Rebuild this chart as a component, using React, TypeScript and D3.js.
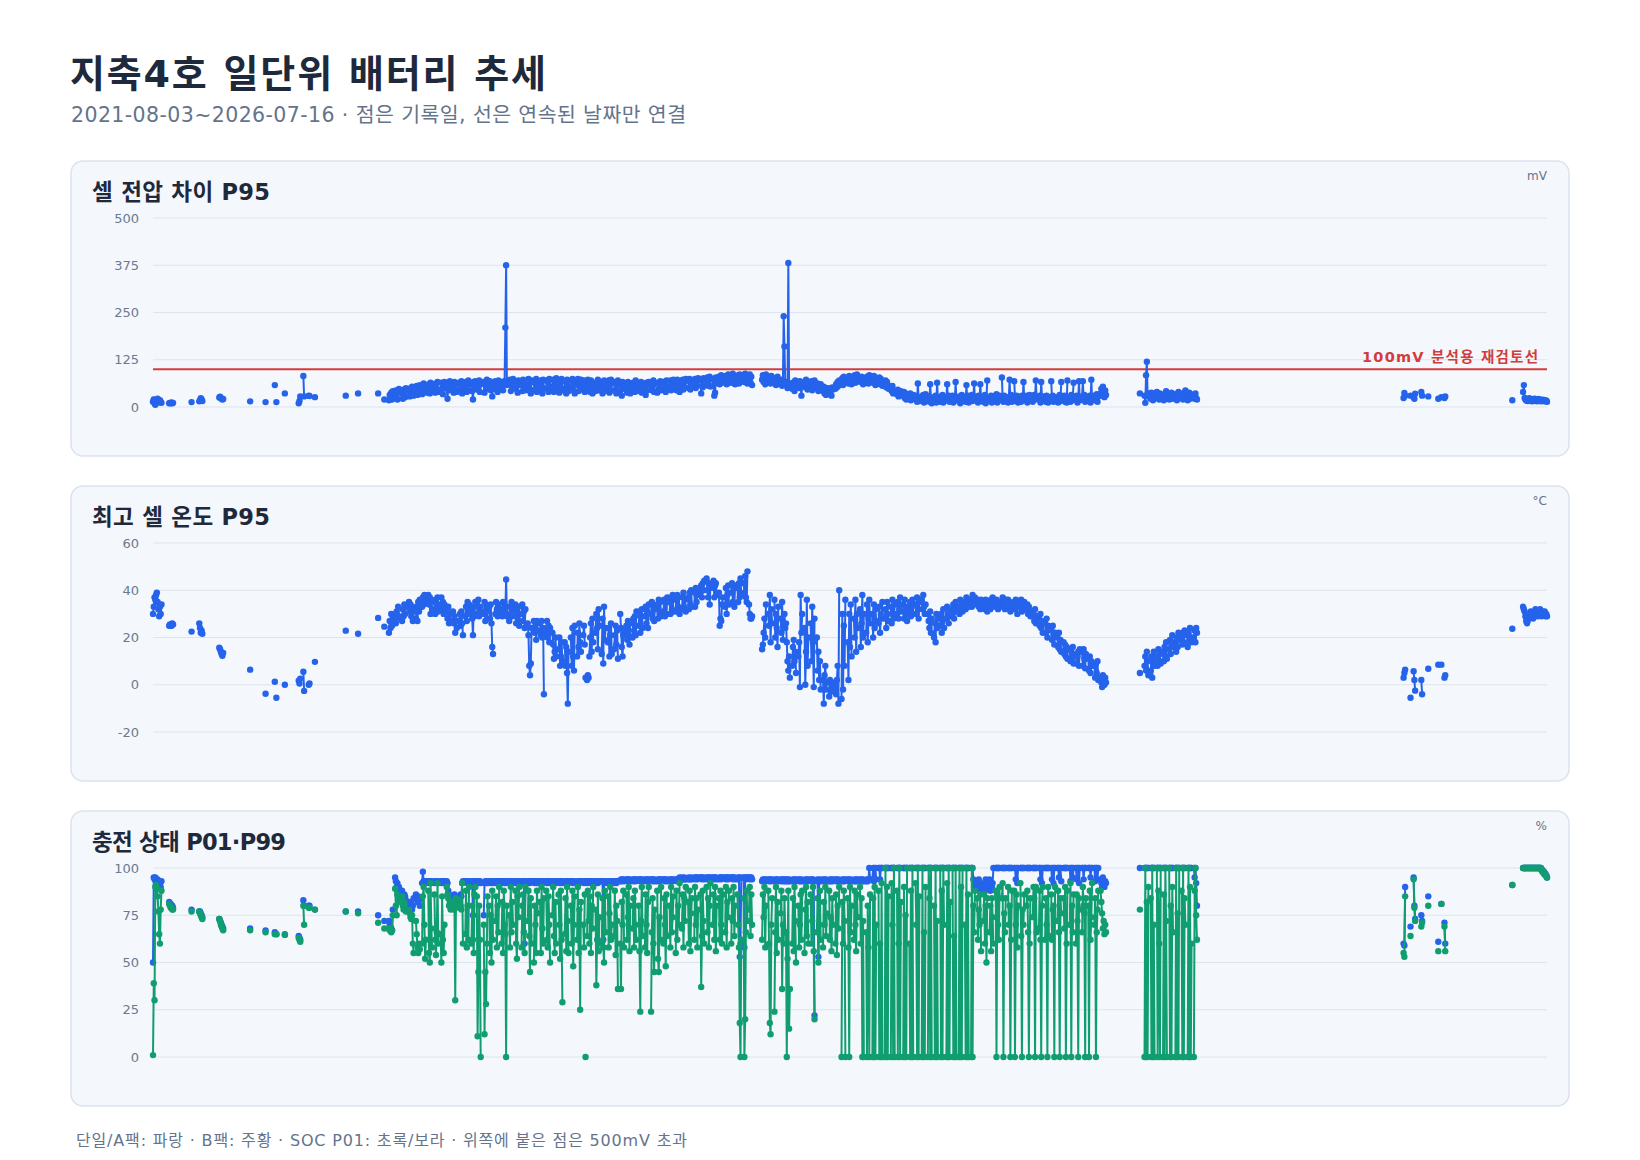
import React from 'react';
import * as d3 from 'd3';

// 기록일 묶음: 각 묶음은 시작일부터 하루씩 이어진 날짜
const runStarts = [
  '2021-08-03', '2021-08-24', '2021-09-22', '2021-10-02', '2021-10-28', '2021-12-07', '2021-12-27', '2022-01-08', '2022-01-10', '2022-01-21',
  '2022-02-08', '2022-02-14', '2022-02-21', '2022-03-01', '2022-04-10', '2022-04-26', '2022-05-22', '2022-05-30',
  '2022-06-05', '2022-06-13', '2022-06-22', '2022-07-01', '2022-07-10', '2022-07-18', '2022-07-26', '2022-08-03', '2022-08-11', '2022-08-19',
  '2022-08-27', '2022-09-04', '2022-09-12', '2022-09-20', '2022-09-27', '2022-10-06', '2022-10-13', '2022-10-21', '2022-10-29', '2022-11-08',
  '2022-11-16', '2022-11-24', '2022-12-02', '2022-12-10', '2022-12-18', '2022-12-26', '2023-01-03', '2023-01-11', '2023-01-19', '2023-01-27',
  '2023-02-04', '2023-02-12', '2023-02-15', '2023-02-17', '2023-02-20', '2023-02-28', '2023-03-08', '2023-03-16', '2023-03-24', '2023-04-01',
  '2023-04-09', '2023-04-17', '2023-04-25', '2023-05-03', '2023-05-11', '2023-05-19', '2023-05-27', '2023-06-04', '2023-06-12', '2023-06-20',
  '2023-06-28', '2023-07-06', '2023-07-14', '2023-07-22', '2023-07-30', '2023-08-07', '2023-08-15', '2023-08-23', '2023-08-31', '2023-09-08', '2023-09-15',
  '2023-10-02', '2023-10-10', '2023-10-18', '2023-10-26', '2023-11-02', '2023-11-10', '2023-11-18', '2023-11-26', '2023-12-04', '2023-12-12',
  '2023-12-20', '2023-12-28', '2024-01-05', '2024-01-13', '2024-01-21', '2024-01-29', '2024-02-06', '2024-02-14', '2024-02-22', '2024-03-01',
  '2024-03-09', '2024-03-17', '2024-03-25', '2024-04-02', '2024-04-10', '2024-04-18', '2024-04-26', '2024-05-04', '2024-05-12', '2024-05-20',
  '2024-05-28', '2024-06-05', '2024-06-13', '2024-06-21', '2024-06-29', '2024-07-07', '2024-07-15', '2024-07-23', '2024-07-31', '2024-08-08',
  '2024-08-16', '2024-08-24', '2024-09-01', '2024-09-09', '2024-09-17', '2024-09-25', '2024-10-03', '2024-10-11', '2024-10-19', '2024-10-27',
  '2024-11-04', '2024-11-12', '2024-11-20', '2024-11-28', '2024-12-06', '2024-12-14',
  '2025-02-03', '2025-02-09', '2025-02-17', '2025-02-25', '2025-03-05', '2025-03-13', '2025-03-21', '2025-03-29', '2025-04-06', '2025-04-14',
  '2026-01-11', '2026-01-20', '2026-01-24', '2026-02-03', '2026-02-12', '2026-02-25', '2026-03-01', '2026-03-05', '2026-06-01', '2026-06-15',
];

// 셀 전압 차이 P95 (mV)
const cellDiffP95 = [
  [14, 20, 10, 6, 15, 19, 22, 16, 12, 18, 14, 11], [10, 11, 10, 12, 10, 11], [13], [15, 18, 23, 20, 16], [25, 27, 24, 22, 20, 21], [15], [13], [58], [13], [36],
  [10, 16, 28], [82, 28], [30, 29], [26], [30], [36], [36], [20],
  [18, 32, 22, 38, 20, 42], [26, 44, 30, 20, 40, 48], [36, 22, 46, 30, 26, 50], [42, 28, 50, 34, 54, 40, 30], [46, 56, 32, 50, 38, 58], [34, 52, 62, 40, 56, 38], [50, 60, 36, 64, 42, 54], [58, 38, 62, 46, 66, 40], [42, 64, 50, 34, 60, 66], [48, 22, 62, 44, 68, 50],
  [58, 38, 66, 46, 62, 40], [64, 42, 54, 68, 36, 60], [48, 66, 40, 60, 70, 44], [60, 42, 20, 66, 50, 68], [46, 64, 52, 70, 40, 60], [66, 38, 60, 48, 72, 52], [56, 68, 44, 62, 28, 58], [68, 46, 62, 40, 70, 54], [52, 66, 44, 60, 68, 210, 375, 58], [60, 72, 42, 64, 50, 74],
  [48, 68, 56, 38, 70, 58], [64, 42, 72, 50, 60, 44], [56, 74, 44, 66, 36, 70], [66, 46, 62, 74, 40, 58], [44, 70, 54, 36, 72, 50], [70, 48, 66, 40, 74, 52], [54, 72, 40, 64, 48, 76], [62, 38, 70, 52, 74, 44], [48, 66, 36, 72, 56, 42], [70, 50, 74, 44, 62, 36],
  [58, 74, 42, 66, 48, 72], [54, 70, 40], [62], [48, 72, 56], [66, 40, 70, 52, 36, 64], [42, 64, 50, 72, 44, 58], [64, 36, 56, 70, 42, 66], [50, 70, 38, 60, 72, 44], [66, 44, 62, 36, 56, 70], [42, 64, 30, 66, 48, 58],
  [60, 38, 66, 48, 62, 36], [46, 64, 54, 40, 70, 48], [62, 42, 58, 66, 38, 56], [50, 32, 64, 44, 60, 66], [58, 44, 56, 70, 40, 62], [38, 64, 48, 60, 68, 44], [66, 48, 60, 40, 70, 54], [54, 70, 44, 62, 48, 72], [62, 44, 72, 52, 66, 40], [58, 72, 46, 66, 52, 74],
  [70, 50, 74, 46, 66, 58], [60, 74, 50, 70, 56, 76], [72, 36, 70, 52, 76, 60], [64, 78, 56, 72, 80, 54], [74, 58, 30, 38, 78, 64], [80, 60, 74, 84, 64, 78], [70, 82, 60, 76, 86, 64], [82, 64, 88, 70, 78, 60], [76, 84, 62, 86, 70, 80], [84, 66, 88, 72, 80, 62], [78, 86, 64, 80, 58],
  [72, 84, 66, 78, 60, 86], [80, 68, 76, 62, 82, 70], [64, 76, 58, 70, 80, 62], [60, 72, 56, 68, 240, 160, 64], [58, 66, 50, 381, 62, 54], [48, 64, 56, 42, 70, 58], [62, 50, 68, 54, 30, 60], [66, 52, 72, 58, 46, 64], [54, 68, 44, 62, 56, 70], [50, 62, 42, 56, 46, 60],
  [42, 54, 36, 48, 32, 50], [38, 50, 44, 30, 52, 46], [48, 60, 52, 66, 56, 70], [62, 76, 58, 80, 66, 72], [74, 62, 82, 68, 78, 60], [70, 84, 64, 76, 86, 68], [78, 66, 80, 72, 60, 76], [68, 80, 74, 62, 84, 70], [76, 64, 82, 70, 58, 74], [66, 78, 60, 74, 68, 56],
  [62, 70, 52, 66, 58, 48], [50, 42, 56, 36, 44, 38], [34, 46, 28, 40, 32, 42], [30, 40, 24, 36, 20, 34], [26, 36, 18, 30, 22, 32], [22, 30, 14, 62, 24, 16], [28, 18, 32, 12, 26, 34], [20, 28, 14, 60, 24, 10], [26, 16, 30, 12, 64, 22], [14, 28, 20, 32, 12, 26],
  [24, 60, 18, 30, 14, 28], [30, 12, 26, 18, 66, 22], [16, 28, 10, 24, 32, 18], [26, 14, 58, 20, 30, 12], [22, 32, 16, 28, 62, 20], [28, 12, 30, 18, 60, 24], [14, 26, 32, 10, 22, 70], [24, 18, 30, 12, 28, 16], [20, 34, 12, 26, 18, 30], [78, 22, 14, 30, 18, 26],
  [12, 26, 72, 20, 32, 14], [68, 24, 16, 30, 20, 12], [26, 14, 30, 18, 66, 22], [30, 12, 24, 16, 32, 20], [14, 26, 32, 20, 70, 24], [20, 30, 12, 66, 28, 18], [28, 14, 30, 20, 12, 26], [68, 22, 30, 14, 26, 18], [24, 12, 28, 32, 16, 66], [18, 30, 14, 26, 12, 70],
  [26, 14, 32, 18, 28, 64], [20, 30, 12, 24, 68, 18], [28, 68, 20, 32, 14, 26], [16, 24, 30, 12, 72, 20], [30, 18, 26, 34, 14, 28], [36, 48, 30, 54, 40, 26, 44, 32],
  [36], [30, 11, 84, 120, 28, 36], [22, 38, 26, 18, 34, 28], [40, 24, 30, 20, 36, 26], [28, 18, 34, 24, 42, 22], [20, 32, 26, 38, 22, 30], [34, 24, 18, 30, 40, 26], [24, 36, 20, 32, 26, 44], [18, 30, 38, 22, 34, 26], [30, 22, 36, 24, 20],
  [24, 37, 30], [30], [26, 22, 35], [40, 30], [28], [22], [26], [24, 28], [18],
  [40, 58, 24, 20, 17, 21, 16, 19, 23, 17, 21, 15, 18, 20, 16, 22, 19, 17, 15, 18, 21, 16, 20, 18, 15, 17, 19, 16, 18, 15, 17, 14],
];

// 최고 셀 온도 P95 (°C)
const maxTempP95 = [
  [30, 33, 37, 36, 38, 39, 35, 32, 29, 33, 30, 34], [25, 25.5, 25, 25, 26, 25.5], [22.5], [26, 24, 22, 23, 21.6], [15.7, 15, 14, 13, 12.3, 13.5], [6.4], [-3.8], [1.3], [-5.5], [0],
  [1.7, 0.5, 2.6], [5.5, -2.6], [0, 0.5], [9.7], [22.9], [21.6], [28.3], [24.6],
  [22, 27, 24, 30, 25, 28], [30, 26, 31, 28, 33, 29], [27, 32, 29, 34, 30, 33], [35, 31, 34, 29, 33, 27, 31], [28, 33, 27, 35, 31, 36], [33, 37, 34, 38, 35, 37], [38, 34, 37, 30, 36, 32], [35, 30, 36, 33, 37, 31], [34, 37, 32, 35, 30, 34], [32, 28, 33, 26, 30, 27],
  [31, 26, 29, 22, 27, 24], [27, 30, 25, 31, 26, 21], [29, 33, 27, 35, 30, 34], [32, 28, 21, 33, 29, 35], [34, 30, 36, 29, 33, 31], [30, 35, 27, 34, 31, 28], [33, 28, 34, 26, 16, 13], [30, 35, 32, 29, 34, 31], [32, 29, 35, 30, 34, 31, 44.6, 29], [27, 33, 30, 35, 29, 32],
  [34, 26, 31, 28, 33, 25], [30, 34, 27, 31, 24, 32], [26, 21, 8, 4, 9, 24], [27, 22, 26, 19, 27, 23], [26, 21, 27, 20, 24, -4], [22, 27, 20, 25, 18, 24], [22, 17, 11, 14, 20, 12], [15, 20, 8, 12, 18, 10], [18, 8, 16, 5, -8, 14], [20, 8, 24, 12, 6, 25],
  [12, 22, 16, 26, 18, 14], [21, 25, 17], [3], [2, 4, 3], [12, 20, 26, 14, 28, 18], [22, 30, 24, 15, 32, 25], [13, 28, 9, 33, 19, 24], [18, 24, 12, 21, 26, 13], [15, 21, 25, 17, 23, 11], [30, 24, 16, 12, 21, 23],
  [25, 19, 27, 21, 17, 26], [20, 28, 23, 29, 21, 31], [25, 31, 22, 29, 32, 24], [29, 33, 26, 31, 24, 34], [30, 35, 28, 33, 27, 32], [34, 28, 36, 30, 35, 29], [31, 36, 29, 35, 30, 37], [35, 30, 37, 32, 38, 31], [36, 31, 38, 33, 37, 30], [32, 37, 39, 33, 36, 31],
  [37, 32, 39, 34, 40, 33], [39, 33, 41, 35, 38, 40], [39, 42, 37, 43, 40, 44], [45, 40, 37, 43, 34, 42], [41, 44, 37, 42, 43, 38], [39, 25, 28, 27, 34, 37], [33, 41, 30, 38, 42, 34], [39, 43, 35, 41, 33, 42], [41, 35, 43, 37, 45, 38], [43, 39, 46, 37, 35, 48], [34, 30, 28, 28, 29],
  [15, 17, 22, 28, 20, 34], [30, 25, 38, 18, 32, 26], [36, 20, 30, 24, 16, 33], [28, 22, 35, 19, 26, 30, 24], [26, 18, 10, 6, 12, 3], [8, 16, 19, 10, 14, 5], [12, 18, -1, 38, 22, 30], [24, 0, 14, 36, 8, 20], [26, 10, 33, 18, -1, 28], [20, 6, 14, 2, 10, -2],
  [2, -8, 4, 8, -2, 1], [-5, 2, -3, 0, 1, -2], [0, -4, 2, 8, -8, 40], [-6, 30, -2, 25, 8, 36], [18, 2, 30, 16, 34, 12], [28, 20, 36, 14, 30, 24], [32, 16, 26, 38, 20, 30], [22, 34, 18, 28, 36, 26], [30, 20, 34, 24, 32, 27], [26, 33, 22, 30, 28, 35],
  [28, 32, 24, 35, 30, 27], [33, 26, 36, 30, 28, 34], [30, 35, 28, 32, 37, 31], [34, 28, 36, 30, 33, 27], [31, 35, 29, 33, 36, 30], [34, 30, 37, 32, 28, 35], [36, 32, 38, 33, 30, 34], [30, 27, 24, 31, 22, 28], [20, 26, 18, 30, 24, 28], [25, 30, 22, 27, 32, 24],
  [28, 33, 30, 26, 32, 29], [30, 34, 28, 32, 35, 31], [33, 30, 36, 32, 34, 31], [35, 32, 37, 34, 36, 33], [36, 33, 38, 34, 35, 37], [34, 36, 33, 35, 32, 36], [33, 35, 32, 36, 34, 31], [35, 32, 36, 33, 37, 34], [33, 36, 34, 32, 35, 33], [34, 37, 33, 35, 32, 36],
  [36, 33, 35, 31, 34, 32], [35, 32, 36, 33, 30, 34], [33, 36, 31, 34, 32, 35], [32, 34, 30, 33, 31, 29], [31, 30, 27, 32, 26, 29], [28, 25, 30, 24, 27, 22], [26, 22, 28, 20, 25, 23], [24, 19, 25, 21, 17, 22], [20, 16, 22, 15, 19, 14], [18, 13, 17, 12, 16, 11],
  [15, 10, 14, 11, 16, 9], [13, 9, 12, 14, 8, 15], [14, 8, 15, 11, 7, 13], [11, 6, 12, 5, 10, 8], [8, 3, 9, 5, 10, 2], [3, 1, -1, 4, 2, 0, 3, 1],
  [5], [8, 12, 6, 14, 10, 4], [6, 12, 3, 10, 14, 8], [12, 8, 15, 10, 13, 9], [14, 10, 16, 12, 18, 11], [15, 19, 13, 17, 21, 16], [18, 14, 20, 16, 22, 19], [20, 17, 22, 18, 23, 21], [16, 22, 19, 24, 20, 18], [20, 23, 18, 24, 22],
  [3, 5, 6.4], [-5.5], [5.7, 2, -2.5], [2, -4], [6.8], [8.5], [8.5], [3, 4], [23.7],
  [33, 32, 31, 29, 27, 26, 27, 28, 29, 30, 31, 30, 29, 28, 30, 31, 32, 31, 30, 29, 30, 31, 32, 30, 29, 31, 30, 30, 31, 29, 30, 29],
];

// 충전 상태 P99 (%)
const socP99 = [
  [50, 95, 94, 95, 93, 92, 94, 93, 91, 92, 90, 93], [82, 81, 81, 80, 80, 79], [78], [77, 77, 76, 75, 74], [73, 72, 71, 70, 69, 68], [68], [67], [66], [65], [65],
  [64, 63, 62], [83, 80], [80, 80], [78], [77], [77], [75], [72],
  [72, 70, 69, 68, 67, 78], [95, 93, 90, 92, 88, 90], [88, 86, 84, 86, 85, 83], [82, 80, 81, 79, 78, 80, 84], [86, 84, 82, 85, 83, 80], [92, 98, 93, 93, 92, 93], [93, 92, 93, 93, 92, 93], [92, 93, 93, 92, 93, 92], [93, 92, 93, 93, 92, 93], [93, 92, 88, 86, 85, 84],
  [85, 85, 86, 84, 85, 83], [85, 84, 86, 85, 92, 93], [93, 93, 92, 93, 93, 92], [93, 92, 75, 93, 92, 93], [92, 93, 92, 93, 93, 92], [75, 92, 93, 92, 93, 92], [93, 92, 93, 93, 92, 93], [92, 93, 93, 92, 93, 93], [93, 92, 93, 93, 92, 93, 92, 93], [93, 92, 93, 92, 93, 93],
  [92, 93, 93, 92, 93, 92], [93, 93, 92, 93, 60, 93], [92, 93, 93, 92, 93, 93], [93, 92, 93, 93, 92, 93], [92, 93, 93, 92, 93, 93], [93, 92, 93, 93, 92, 93], [92, 93, 93, 92, 93, 92], [93, 93, 92, 93, 93, 92], [93, 92, 93, 93, 92, 93], [93, 93, 92, 93, 93, 92],
  [92, 93, 93, 92, 93, 93], [93, 92, 93], [93], [92, 93, 93], [93, 92, 93, 93, 92, 93], [92, 93, 93, 92, 93, 93], [93, 93, 62, 93, 93, 92], [93, 92, 93, 93, 92, 93], [92, 93, 93, 92, 93, 93], [93, 94, 93, 94, 94, 93],
  [94, 94, 93, 94, 94, 93], [94, 93, 94, 94, 93, 94], [94, 94, 93, 94, 94, 93], [94, 93, 94, 94, 93, 94], [94, 94, 93, 94, 94, 93], [93, 94, 94, 93, 94, 94], [94, 94, 93, 94, 94, 93], [94, 93, 94, 94, 93, 94], [94, 94, 93, 94, 94, 95], [95, 94, 94, 95, 94, 94],
  [94, 95, 94, 94, 95, 94], [95, 94, 95, 95, 94, 95], [95, 95, 94, 95, 95, 94], [95, 94, 95, 95, 94, 95], [95, 95, 94, 95, 95, 94], [94, 95, 95, 94, 95, 95], [95, 94, 95, 95, 94, 95], [95, 95, 94, 95, 95, 94], [94, 95, 95, 53, 60, 95], [95, 58, 95, 94, 95, 95], [95, 94, 95, 95, 94],
  [93, 94, 93, 94, 93, 94], [94, 93, 94, 94, 93, 94], [93, 94, 93, 94, 94, 93], [94, 93, 94, 94, 93, 94, 93], [94, 93, 94, 93, 94, 93], [93, 94, 93, 94, 93, 94], [94, 93, 94, 93, 94, 93], [93, 94, 93, 94, 93, 94], [94, 93, 94, 94, 93, 22], [93, 94, 53, 93, 94, 93],
  [94, 93, 94, 93, 94, 93], [93, 94, 93, 94, 93, 94], [94, 93, 94, 93, 94, 93], [93, 94, 93, 94, 93, 94], [94, 93, 94, 93, 94, 93], [93, 94, 93, 94, 93, 94], [94, 93, 94, 93, 94, 93], [93, 94, 93, 94, 100, 94], [94, 100, 93, 100, 100, 94], [100, 100, 94, 100, 100, 100],
  [100, 100, 100, 100, 100, 100], [100, 100, 100, 100, 100, 100], [100, 100, 100, 100, 100, 100], [100, 100, 100, 100, 100, 100], [100, 100, 100, 100, 100, 100], [100, 100, 100, 100, 100, 100], [100, 100, 100, 100, 100, 100], [100, 100, 100, 100, 100, 100], [100, 100, 100, 100, 100, 100], [100, 100, 100, 100, 100, 100],
  [100, 100, 100, 100, 100, 100], [100, 100, 100, 100, 100, 100], [100, 100, 100, 100, 100, 100], [100, 100, 100, 100, 100, 100], [100, 100, 100, 94, 92, 90], [92, 90, 94, 88, 92, 90], [90, 92, 88, 94, 90, 92], [94, 88, 92, 90, 92, 100], [100, 100, 100, 100, 100, 100], [100, 100, 100, 100, 100, 100],
  [100, 100, 100, 100, 100, 100], [100, 100, 94, 100, 92, 100], [100, 100, 100, 100, 100, 100], [100, 100, 100, 100, 100, 100], [100, 100, 100, 100, 100, 100], [100, 100, 94, 100, 92, 100], [100, 100, 100, 100, 100, 100], [100, 94, 100, 92, 100, 100], [100, 100, 95, 100, 100, 93], [100, 100, 100, 100, 100, 100],
  [100, 93, 100, 100, 95, 100], [100, 94, 100, 100, 92, 100], [100, 100, 94, 100, 100, 100], [100, 100, 100, 95, 100, 100], [100, 93, 100, 100, 94, 100], [94, 92, 90, 95, 92, 90, 93, 92],
  [100], [100, 100, 100, 100, 100, 100], [100, 100, 100, 100, 100, 100], [100, 100, 100, 100, 100, 100], [100, 100, 100, 100, 100, 100], [100, 100, 100, 100, 100, 100], [100, 100, 100, 100, 100, 100], [100, 100, 100, 100, 100, 100], [100, 100, 100, 100, 100, 100], [100, 95, 100, 92, 80],
  [60, 59, 90], [69], [95, 80, 73], [75, 72], [85], [61], [81], [71, 60], [91],
  [100, 100, 100, 100, 100, 100, 100, 100, 100, 100, 100, 100, 100, 100, 100, 100, 100, 100, 100, 100, 100, 100, 100, 100, 99, 99, 98, 98, 97, 97, 96, 95],
];

// 충전 상태 P01 (%)
const socP01 = [
  [1, 39, 30, 90, 91, 89, 85, 77, 65, 60, 78, 88], [81, 80, 79, 79, 78, 78], [77], [77, 76, 75, 74, 73], [73, 72, 70, 69, 68, 67], [67], [66], [65], [65], [64.6],
  [63, 62, 61], [80, 70], [79, 79], [78], [77], [76], [71], [68],
  [68, 67, 67, 66, 67, 75], [89, 80, 75, 86, 82, 84], [85, 80, 78, 82, 79, 77], [78, 76, 74, 73, 75, 60, 55], [72, 65, 58, 55, 60, 57], [60, 85, 90, 70, 52, 62], [88, 55, 50, 92, 68, 58], [86, 62, 54, 66, 92, 60], [65, 50, 85, 62, 55, 70], [90, 86, 84, 80, 82, 78],
  [82, 78, 80, 30, 84, 80], [79, 83, 80, 78, 92, 60], [65, 88, 58, 80, 62, 90], [60, 80, 62, 55, 86, 90], [85, 11, 45, 80, 62, 0], [70, 12, 45, 28, 60, 85], [80, 55, 75, 50, 88, 62], [72, 85, 58, 80, 66, 90], [60, 82, 55, 88, 70, 65, 0, 80], [75, 58, 90, 66, 82, 70],
  [88, 60, 52, 85, 74, 90], [58, 80, 86, 66, 55, 90], [72, 88, 64, 45, 84, 60], [50, 80, 70, 55, 88, 76], [82, 55, 90, 68, 60, 84], [88, 62, 58, 85, 70, 50], [75, 90, 64, 55, 82, 60], [86, 70, 52, 88, 62, 29], [65, 84, 56, 90, 72, 55], [80, 60, 88, 48, 70, 85],
  [62, 90, 55, 78, 25, 82], [70, 58, 86], [0], [64, 88, 72], [60, 85, 55, 80, 68, 90], [78, 38, 62, 86, 56, 74], [60, 84, 58, 50, 88, 66], [85, 58, 76, 90, 62, 70], [64, 88, 54, 80, 72, 36], [60, 36, 82, 70, 88, 58],
  [86, 62, 74, 90, 56, 80], [68, 84, 58, 88, 70, 62], [80, 56, 24, 72, 90, 64], [58, 86, 70, 55, 82, 90], [24, 66, 84, 60, 45, 78], [88, 52, 45, 74, 62, 90], [60, 84, 70, 48, 86, 64], [80, 58, 90, 66, 74, 85], [55, 88, 62, 80, 70, 92], [68, 86, 58, 84, 72, 90],
  [82, 60, 88, 56, 76, 84], [62, 90, 70, 84, 58, 78], [86, 37, 64, 88, 72, 60], [90, 66, 84, 58, 80, 92], [70, 86, 62, 90, 56, 80], [84, 62, 88, 70, 60, 86], [66, 90, 58, 82, 74, 88], [60, 84, 72, 90, 64, 80], [86, 70, 58, 18, 0, 62], [84, 0, 20, 66, 88, 72], [78, 90, 64, 86, 70],
  [62, 86, 74, 90, 58, 80], [88, 60, 18, 12, 70, 84], [24, 66, 90, 55, 82, 62], [76, 88, 36, 70, 60, 84, 66], [66, 0, 52, 88, 15, 36], [60, 84, 56, 90, 72, 50], [80, 58, 70, 86, 62, 88], [55, 78, 90, 64, 82, 60], [86, 60, 72, 90, 56, 20], [66, 84, 50, 70, 88, 62],
  [58, 82, 70, 90, 64, 76], [88, 62, 74, 56, 84, 70], [60, 86, 54, 80, 68, 90], [0, 82, 60, 88, 72, 0], [84, 58, 0, 90, 66, 80], [62, 88, 70, 56, 86, 74], [90, 60, 84, 0, 72, 0], [66, 0, 80, 58, 0, 86], [0, 84, 0, 90, 0, 70], [88, 0, 60, 0, 92, 0],
  [0, 100, 0, 90, 0, 85], [0, 92, 70, 0, 100, 0], [88, 0, 60, 100, 0, 82], [0, 90, 0, 75, 0, 100], [60, 0, 88, 0, 100, 0], [92, 70, 0, 100, 0, 85], [0, 100, 0, 66, 0, 90], [0, 100, 84, 0, 100, 0], [80, 0, 100, 0, 72, 0], [100, 0, 88, 0, 100, 70],
  [0, 92, 0, 100, 0, 82], [100, 0, 64, 0, 100, 0], [0, 100, 0, 90, 0, 100], [70, 0, 100, 0, 86, 0], [0, 100, 0, 80, 66, 88], [84, 62, 78, 70, 86, 56], [72, 86, 60, 80, 50, 84], [66, 80, 56, 84, 74, 60], [88, 0, 86, 70, 62, 90], [84, 92, 0, 76, 66, 84],
  [90, 70, 80, 0, 62, 88], [88, 0, 70, 86, 58, 80], [92, 64, 0, 78, 70, 86], [80, 88, 66, 0, 60, 84], [74, 90, 84, 0, 90, 66], [68, 88, 62, 0, 80, 90], [62, 84, 70, 0, 90, 64], [86, 62, 78, 80, 0, 90], [72, 88, 66, 0, 84, 76], [84, 68, 90, 0, 60, 88],
  [70, 92, 0, 80, 66, 86], [60, 86, 72, 0, 84, 78], [66, 90, 80, 76, 0, 84], [80, 0, 88, 62, 74, 92], [70, 84, 0, 66, 78, 88], [88, 82, 76, 68, 72, 65, 70, 66],
  [78], [0, 100, 0, 82, 0, 90], [84, 0, 100, 0, 70, 0], [100, 0, 88, 60, 0, 100], [0, 86, 0, 100, 72, 0], [100, 0, 80, 0, 90, 66], [0, 100, 0, 76, 0, 100], [88, 0, 100, 0, 84, 70], [0, 100, 0, 90, 0, 60], [0, 88, 100, 75, 62],
  [55, 53, 85], [64], [94, 79, 72], [69, 71], [80], [56], [81], [69, 56], [91],
  [100, 100, 100, 100, 100, 100, 100, 100, 100, 100, 100, 100, 100, 100, 100, 100, 100, 100, 100, 100, 100, 100, 100, 100, 99, 98, 98, 97, 97, 96, 96, 95],
];

const firstDay = '2021-08-03';
const lastDay = '2026-07-16';
const voltTicks = [0, 125, 250, 375, 500];
const tempTicks = [-20, 0, 20, 40, 60];
const socTicks = [0, 25, 50, 75, 100];
const reviewLimit = 100;

const BLUE = '#2563eb';
const GREEN = '#109e70';
const FONT = "'DejaVu Sans', 'Noto Sans CJK KR', sans-serif";

const PANEL_X = 71;
const PANEL_W = 1498;
const PANEL_H = 295;
const PLOT_LEFT = 153;
const PLOT_RIGHT = 1547;

const parseDay = d3.utcParse('%Y-%m-%d');
const x = d3.scaleUtc()
  .domain([parseDay(firstDay)!, parseDay(lastDay)!])
  .range([PLOT_LEFT, PLOT_RIGHT]);

type Pt = { date: Date; value: number };

const toRuns = (series: number[][], cap = Infinity): Pt[][] =>
  series.map((vals, r) => {
    const start = parseDay(runStarts[r])!;
    return vals.map((v, i) => ({ date: d3.utcDay.offset(start, i), value: Math.min(v, cap) }));
  });

type Layer = { runs: Pt[][]; color: string };

const Panel: React.FC<{
  top: number; title: string; titleWidth: number; unit: string; domain: [number, number];
  ticks: number[]; layers: Layer[]; threshold?: number;
}> = ({ top, title, titleWidth, unit, domain, ticks, layers, threshold }) => {
  const y = d3.scaleLinear().domain(domain).range([top + 246, top + 57]);
  const line = d3.line<Pt>().x(d => x(d.date)).y(d => y(d.value));

  return (
    <g>
      <rect x={PANEL_X} y={top} width={PANEL_W} height={PANEL_H} rx={12}
        fill="#f4f7fb" stroke="#dbe3ee" strokeWidth={1.5} />
      <text x={92} y={top + 39} fontSize={22.5} fontWeight={700} fill="#1e293b"
        textLength={titleWidth} lengthAdjust="spacing">{title}</text>
      <text x={PLOT_RIGHT} y={top + 19} textAnchor="end" fontSize={12} fill="#64748b">{unit}</text>
      {ticks.map(t => (
        <g key={t}>
          <line x1={PLOT_LEFT} x2={PLOT_RIGHT} y1={y(t)} y2={y(t)} stroke="#dde4ee" strokeWidth={1} />
          <text x={139} y={y(t)} dy="0.35em" textAnchor="end" fontSize={13} fill="#6b7a90">{t}</text>
        </g>
      ))}
      {threshold !== undefined && (
        <g>
          <line x1={PLOT_LEFT} x2={PLOT_RIGHT} y1={y(threshold)} y2={y(threshold)}
            stroke="#d33c3c" strokeWidth={2} />
          <text x={1362} y={y(threshold) - 7} fontSize={14.5} fontWeight={700}
            fill="#d33c3c" textLength={176} lengthAdjust="spacing">100mV 분석용 재검토선</text>
        </g>
      )}
      {layers.map((layer, li) => (
        <g key={li}>
          {layer.runs.map((run, ri) => run.length > 1 && (
            <path key={ri} d={line(run) || ''} fill="none" stroke={layer.color} strokeWidth={2} />
          ))}
          {layer.runs.flat().map((p, pi) => (
            <circle key={pi} cx={x(p.date)} cy={y(p.value)} r={3.2} fill={layer.color} />
          ))}
        </g>
      ))}
    </g>
  );
};

const App: React.FC = () => {
  document.body.style.margin = '0';
  const volt = toRuns(cellDiffP95, 500);
  const temp = toRuns(maxTempP95);
  const socHi = toRuns(socP99);
  const socLo = toRuns(socP01);

  return (
    <svg width={1640} height={1160} style={{ display: 'block', background: '#fff' }} fontFamily={FONT}>
      <text x={70} y={87} fontSize={38} fontWeight={700} fill="#1e293b"
        textLength={476} lengthAdjust="spacing">지축4호 일단위 배터리 추세</text>
      <text x={71} y={122} fontSize={20.5} fill="#64748b" textLength={615} lengthAdjust="spacing">
        2021-08-03~2026-07-16 · 점은 기록일, 선은 연속된 날짜만 연결
      </text>

      <Panel top={161} title="셀 전압 차이 P95" titleWidth={178} unit="mV" domain={[0, 500]} ticks={voltTicks}
        layers={[{ runs: volt, color: BLUE }]} threshold={reviewLimit} />
      <Panel top={486} title="최고 셀 온도 P95" titleWidth={178} unit="°C" domain={[-20, 60]} ticks={tempTicks}
        layers={[{ runs: temp, color: BLUE }]} />
      <Panel top={811} title="충전 상태 P01·P99" titleWidth={194} unit="%" domain={[0, 100]} ticks={socTicks}
        layers={[{ runs: socHi, color: BLUE }, { runs: socLo, color: GREEN }]} />

      <text x={76} y={1146} fontSize={16} fill="#64748b" textLength={611} lengthAdjust="spacing">
        단일/A팩: 파랑 · B팩: 주황 · SOC P01: 초록/보라 · 위쪽에 붙은 점은 500mV 초과
      </text>
    </svg>
  );
};

export default App;
